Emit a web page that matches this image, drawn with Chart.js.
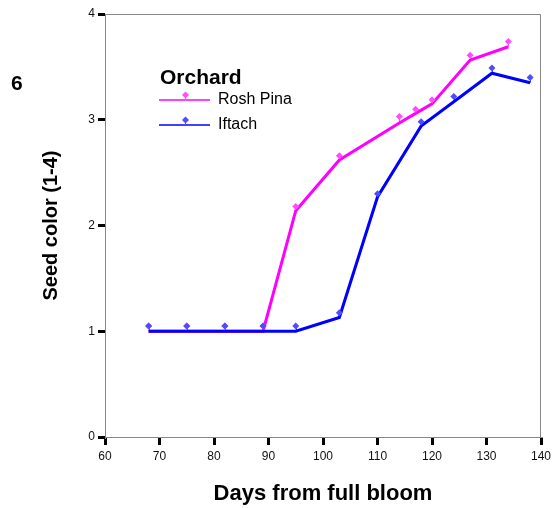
<!DOCTYPE html>
<html>
<head>
  <title>Seed color</title>
  <style>
    body { margin: 0; background: #fff; }
    #wrap { width: 557px; height: 508px; }
  </style>
  <script src="https://cdn.jsdelivr.net/npm/chart.js"></script>
</head>
<body>
  <div id="wrap"><canvas id="chart" width="557" height="508"></canvas></div>

  <script>
    // values
    const roshDays = [68, 75, 82, 89, 95, 103, 114, 117, 120, 127, 134];
    const roshPoints = [1.05, 1.05, 1.05, 1.05, 2.18, 2.66, 3.03, 3.10, 3.19, 3.61, 3.74];
    const roshLine = [1, 1, 1, 1, 2.14, 2.62, 2.97, 3.06, 3.15, 3.565, 3.69];

    const iftachDays = [68, 75, 82, 89, 95, 103, 110, 118, 124, 131, 138];
    const iftachPoints = [1.05, 1.05, 1.05, 1.05, 1.05, 1.175, 2.30, 2.98, 3.22, 3.49, 3.40];
    const iftachLine = [1, 1, 1, 1, 1, 1.13, 2.27, 2.94, 3.17, 3.44, 3.35];

    const xTicks = [60, 70, 80, 90, 100, 110, 120, 130, 140];
    const yTicks = [0, 1, 2, 3, 4];

    const FONT = '"Liberation Sans", Arial, sans-serif';
    const PINK = '#ff00ff';
    const BLUE = '#0000ff';
    const PINK_MK = '#ff4dff';
    const BLUE_MK = '#4d4dff';

    function toXY(xs, ys) {
      return xs.map((x, i) => ({ x: x, y: ys[i] }));
    }

    // little sticks from each marker down to its line
    const sticks = {
      id: 'sticks',
      beforeDatasetsDraw(chart) {
        const ctx = chart.ctx;
        const xs = chart.scales.x, ys = chart.scales.y;
        ctx.save();
        ctx.lineWidth = 1;
        [[roshDays, roshPoints, roshLine, PINK_MK], [iftachDays, iftachPoints, iftachLine, BLUE_MK]].forEach(([d, p, l, c]) => {
          ctx.strokeStyle = c;
          d.forEach((day, i) => {
            const px = Math.round(xs.getPixelForValue(day)) + 0.5;
            ctx.beginPath();
            ctx.moveTo(px, ys.getPixelForValue(p[i]));
            ctx.lineTo(px, ys.getPixelForValue(l[i]));
            ctx.stroke();
          });
        });
        ctx.restore();
      }
    };

    // draw the frame, the "6" panel label and the legend box
    const extras = {
      id: 'extras',
      afterDatasetsDraw(chart) {
        const ctx = chart.ctx;
        const a = chart.chartArea;
        ctx.save();
        ctx.strokeStyle = '#888';
        ctx.lineWidth = 1;
        ctx.beginPath();
        ctx.moveTo(a.left, a.top + 0.5);
        ctx.lineTo(a.right - 0.5, a.top + 0.5);
        ctx.lineTo(a.right - 0.5, a.bottom);
        ctx.stroke();

        ctx.fillStyle = '#000';
        ctx.font = 'bold 21px ' + FONT;
        ctx.textBaseline = 'middle';
        ctx.fillText('6', 11, 84);

        // legend
        ctx.font = 'bold 21px ' + FONT;
        ctx.fillText('Orchard', 160, 78);
        const items = [['Rosh Pina', PINK, PINK_MK, 100], ['Iftach', BLUE, BLUE_MK, 125]];
        items.forEach(([label, col, mk, y]) => {
          ctx.strokeStyle = col;
          ctx.lineWidth = 1.5;
          ctx.beginPath();
          ctx.moveTo(159, y);
          ctx.lineTo(210, y);
          ctx.stroke();
          ctx.strokeStyle = mk;
          ctx.lineWidth = 1;
          ctx.beginPath();
          ctx.moveTo(185.5, y - 4);
          ctx.lineTo(185.5, y);
          ctx.stroke();
          ctx.fillStyle = mk;
          ctx.beginPath();
          ctx.moveTo(185.5, y - 8.5);
          ctx.lineTo(189, y - 5);
          ctx.lineTo(185.5, y - 1.5);
          ctx.lineTo(182, y - 5);
          ctx.closePath();
          ctx.fill();
          ctx.fillStyle = '#000';
          ctx.font = '16px ' + FONT;
          ctx.fillText(label, 218, y);
        });
        ctx.restore();
      }
    };

    new Chart(document.getElementById('chart'), {
      type: 'scatter',
      data: {
        datasets: [
          {
            label: 'Rosh Pina line',
            data: toXY(roshDays, roshLine),
            showLine: true,
            borderColor: PINK,
            borderWidth: 3,
            pointRadius: 0,
            order: 4
          },
          {
            label: 'Iftach line',
            data: toXY(iftachDays, iftachLine),
            showLine: true,
            borderColor: BLUE,
            borderWidth: 3,
            pointRadius: 0,
            order: 3
          },
          {
            label: 'Rosh Pina',
            data: toXY(roshDays, roshPoints),
            pointStyle: 'rectRot',
            pointRadius: 3.5,
            backgroundColor: PINK_MK,
            borderColor: PINK_MK,
            borderWidth: 0,
            order: 2
          },
          {
            label: 'Iftach',
            data: toXY(iftachDays, iftachPoints),
            pointStyle: 'rectRot',
            pointRadius: 3.5,
            backgroundColor: BLUE_MK,
            borderColor: BLUE_MK,
            borderWidth: 0,
            order: 1
          }
        ]
      },
      options: {
        responsive: false,
        animation: false,
        layout: { padding: { left: 39, right: 16, top: 14, bottom: 1 } },
        plugins: { legend: { display: false }, tooltip: { enabled: false } },
        scales: {
          x: {
            type: 'linear',
            min: 60,
            max: 140,
            afterBuildTicks: (s) => { s.ticks = xTicks.map(v => ({ value: v })); },
            afterFit: (s) => { s.height = 70; },
            border: { color: '#888', width: 1 },
            grid: { drawOnChartArea: false, color: '#000', lineWidth: 3, tickLength: 8 },
            ticks: { color: '#111', font: { family: FONT, size: 12 }, padding: 4 },
            title: {
              display: true,
              text: 'Days from full bloom',
              color: '#000',
              font: { family: FONT, size: 22, weight: 'bold' },
              padding: { top: 0, bottom: 0 }
            }
          },
          y: {
            min: 0,
            max: 4,
            afterBuildTicks: (s) => { s.ticks = yTicks.map(v => ({ value: v })); },
            afterFit: (s) => { s.width = 66; },
            border: { color: '#888', width: 1 },
            grid: { drawOnChartArea: false, color: '#000', lineWidth: 3, tickLength: 7 },
            ticks: { color: '#111', font: { family: FONT, size: 12 }, padding: 3 },
            title: {
              display: true,
              text: 'Seed color (1-4)',
              color: '#000',
              font: { family: FONT, size: 20, weight: 'bold' },
              padding: { top: 0, bottom: 0 }
            }
          }
        }
      },
      plugins: [sticks, extras]
    });
  </script>
</body>
</html>
